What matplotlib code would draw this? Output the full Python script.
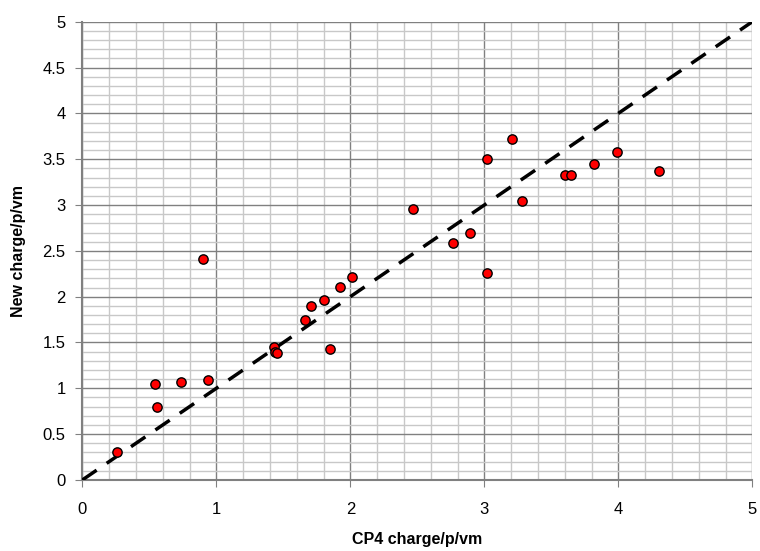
import matplotlib
matplotlib.use("Agg")
import matplotlib.pyplot as plt
import numpy as np
from matplotlib.ticker import MultipleLocator

plt.rcParams['font.family'] = ['Liberation Sans', 'DejaVu Sans']

cp4 = [0.26, 0.54, 0.56, 0.74, 0.90, 0.94, 1.43, 1.44, 1.45, 1.66, 1.71, 1.80,
       1.85, 1.92, 2.01, 2.47, 2.77, 2.89, 3.02, 3.02, 3.21, 3.28, 3.60, 3.65,
       3.82, 3.99, 4.30]
new = [0.30, 1.05, 0.80, 1.07, 2.41, 1.09, 1.45, 1.40, 1.38, 1.74, 1.90, 1.96,
       1.43, 2.11, 2.22, 2.96, 2.59, 2.70, 3.50, 2.26, 3.72, 3.04, 3.33, 3.33,
       3.45, 3.58, 3.37]
line_x = [0, 5]
line_y = [0, 5]
xticks = [0, 1, 2, 3, 4, 5]
xticklabels = ['0', '1', '2', '3', '4', '5']
yticks = [0, 0.5, 1, 1.5, 2, 2.5, 3, 3.5, 4, 4.5, 5]
yticklabels = ['0', '0.5', '1', '1.5', '2', '2.5', '3', '3.5', '4', '4.5', '5']

fig = plt.figure(figsize=(7.6, 5.51), dpi=100)
ax = fig.add_axes([0.1083, 0.1289, 0.8816, 0.8317])

ax.set_xlim(0, 5)
ax.set_ylim(0, 5)
ax.set_xticks(xticks)
ax.set_xticklabels(xticklabels)
ax.set_yticks(yticks)
ax.set_yticklabels(yticklabels)
ax.xaxis.set_minor_locator(MultipleLocator(0.2))
ax.yaxis.set_minor_locator(MultipleLocator(0.1))

ax.grid(which='minor', color='#c8c8c8', linewidth=1.0)
ax.grid(which='major', color='#808080', linewidth=1.0)
ax.set_axisbelow(True)

for s in ['top', 'right']:
    ax.spines[s].set_visible(False)
ax.spines['left'].set_color('#808080')
ax.spines['bottom'].set_color('#808080')
ax.spines['left'].set_linewidth(1.5)
ax.spines['bottom'].set_linewidth(1.5)

ax.tick_params(which='major', direction='out', length=5, color='#808080',
               labelsize=12)
ax.tick_params(which='minor', length=0)
ax.tick_params(axis='y', pad=7)
ax.tick_params(axis='x', pad=11)

ax.plot(line_x, line_y, color='black', linewidth=2.5, dashes=(5, 3.5), zorder=3)
ax.scatter(cp4, new, s=45, color='#ff0000', edgecolors='black', linewidths=1.0,
           zorder=4, clip_on=False)

ax.set_xlabel('CP4 charge/p/vm', fontsize=11.5, fontweight='bold', labelpad=11)
ax.set_ylabel('New charge/p/vm', fontsize=11.5, fontweight='bold', labelpad=12)

fig.savefig('out.png', dpi=100)
